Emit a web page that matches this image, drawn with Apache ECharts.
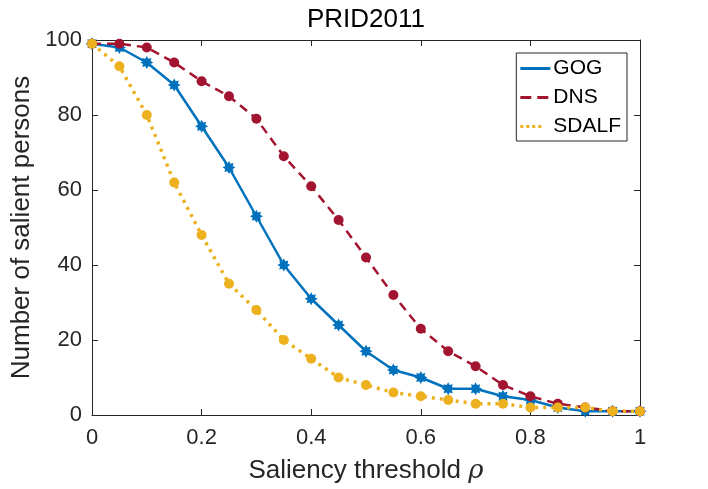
<!DOCTYPE html>
<html>
<head>
<meta charset="utf-8">
<script src="https://cdn.jsdelivr.net/npm/echarts@6/dist/echarts.min.js"></script>
<style>html,body{margin:0;padding:0;background:#fff;}#c{width:708px;height:489px;}</style>
</head>
<body>
<div id="c"></div>
<script>
const thresholds = [0, 0.05, 0.1, 0.15, 0.2, 0.25, 0.3, 0.35, 0.4, 0.45, 0.5, 0.55, 0.6, 0.65, 0.7, 0.75, 0.8, 0.85, 0.9, 0.95, 1];
const gog   = [99, 98, 94, 88, 77, 66, 53, 40, 31, 24, 17, 12, 10, 7, 7, 5, 4, 2, 1, 1, 1];
const dns   = [99, 99, 98, 94, 89, 85, 79, 69, 61, 52, 42, 32, 23, 17, 13, 8, 5, 3, 2, 1, 1];
const sdalf = [99, 93, 80, 62, 48, 35, 28, 20, 15, 10, 8, 6, 5, 4, 3, 3, 2, 2, 2, 1, 1];
const seriesNames = ['GOG', 'DNS', 'SDALF'];
const chartTitle = 'PRID2011';
const xName = 'Saliency threshold ';
const yName = 'Number of salient persons';

const FONT = '"Liberation Sans", Arial, Helvetica, sans-serif';
const AX = '#262626';

function starPath() {
  let p = [];
  for (let k = 0; k < 16; k++) {
    const r = (k % 2) ? 6.2 : 10;
    const a = k * Math.PI / 8 - Math.PI / 2;
    p.push((k ? 'L' : 'M') + (10 + r * Math.cos(a)).toFixed(2) + ',' + (10 + r * Math.sin(a)).toFixed(2));
  }
  return 'path://' + p.join(' ') + 'Z';
}

function zip(ys) { return thresholds.map((x, i) => [x, ys[i]]); }

const axisCommon = {
  type: 'value',
  axisLine: { show: true, onZero: false, lineStyle: { color: AX, width: 1 } },
  axisTick: { show: true, inside: true, length: 6, lineStyle: { color: AX, width: 1 } },
  splitLine: { show: false }
};

const chart = echarts.init(document.getElementById('c'), null, { renderer: 'canvas' });
chart.setOption({
  animation: false,
  backgroundColor: '#fff',
  textStyle: { fontFamily: FONT },
  grid: { left: 92, right: 68, top: 40, bottom: 74, containLabel: false },
  legend: {
    right: 81, top: 53, orient: 'vertical',
    backgroundColor: '#fff', borderColor: AX, borderWidth: 1, borderRadius: 0,
    padding: [5, 6, 4, 4], itemGap: 8, itemWidth: 30, itemHeight: 21,
    itemStyle: { borderWidth: 0 },
    textStyle: { fontSize: 21, color: '#000', fontFamily: FONT, padding: [0, 0, 0, -2] },
    data: [
      { name: seriesNames[0], icon: 'path://M0,0H30V3H0Z' },
      { name: seriesNames[1], icon: 'path://M0,0H11V3H0Z M17,0H28V3H17Z M29.9,0H30V3H29.9Z' },
      { name: seriesNames[2], icon: 'path://M0,0H3V3H0Z M6,0H9V3H6Z M12,0H15V3H12Z M18,0H21V3H18Z M29.9,0H30V3H29.9Z' }
    ]
  },
  xAxis: [
    Object.assign({}, axisCommon, {
      position: 'bottom', min: 0, max: 1, interval: 0.2,
      axisLabel: { fontSize: 22, color: AX, margin: 12, fontFamily: FONT },
      name: '{n|' + xName + '}{r|ρ}', nameLocation: 'middle', nameGap: 43,
      nameTextStyle: { rich: {
        n: { fontSize: 26, color: AX, fontFamily: FONT },
        r: { fontSize: 26, color: AX, fontStyle: 'italic', fontFamily: '"DejaVu Serif", serif' }
      } }
    }),
    Object.assign({}, axisCommon, {
      position: 'top', min: 0, max: 1, interval: 0.2,
      axisLabel: { show: false },
      name: chartTitle, nameLocation: 'middle', nameGap: 7,
      nameTextStyle: { fontSize: 26, color: '#000', fontFamily: FONT }
    })
  ],
  yAxis: [
    Object.assign({}, axisCommon, {
      position: 'left', min: 0, max: 100, interval: 20,
      axisLabel: { fontSize: 22, color: AX, margin: 10, fontFamily: FONT },
      name: yName, nameLocation: 'middle', nameGap: 50,
      nameTextStyle: { fontSize: 26, color: AX, fontFamily: FONT }
    }),
    Object.assign({}, axisCommon, {
      position: 'right', min: 0, max: 100, interval: 20,
      axisLabel: { show: false }
    })
  ],
  series: [
    {
      name: seriesNames[0], type: 'line', data: zip(gog), z: 2,
      symbol: starPath(), symbolSize: 13,
      lineStyle: { color: '#0072BD', width: 2.5, type: 'solid' },
      itemStyle: { color: '#0072BD', borderWidth: 0 }
    },
    {
      name: seriesNames[1], type: 'line', data: zip(dns), z: 3,
      symbol: 'circle', symbolSize: 10,
      lineStyle: { color: '#A2142F', width: 2.5, type: [9, 6] },
      itemStyle: { color: '#A2142F', borderWidth: 0 }
    },
    {
      name: seriesNames[2], type: 'line', data: zip(sdalf), z: 4,
      symbol: 'circle', symbolSize: 10,
      lineStyle: { color: '#EDB120', width: 3.5, type: [3, 5] },
      itemStyle: { color: '#EDB120', borderWidth: 0 }
    }
  ]
});
</script>
</body>
</html>
